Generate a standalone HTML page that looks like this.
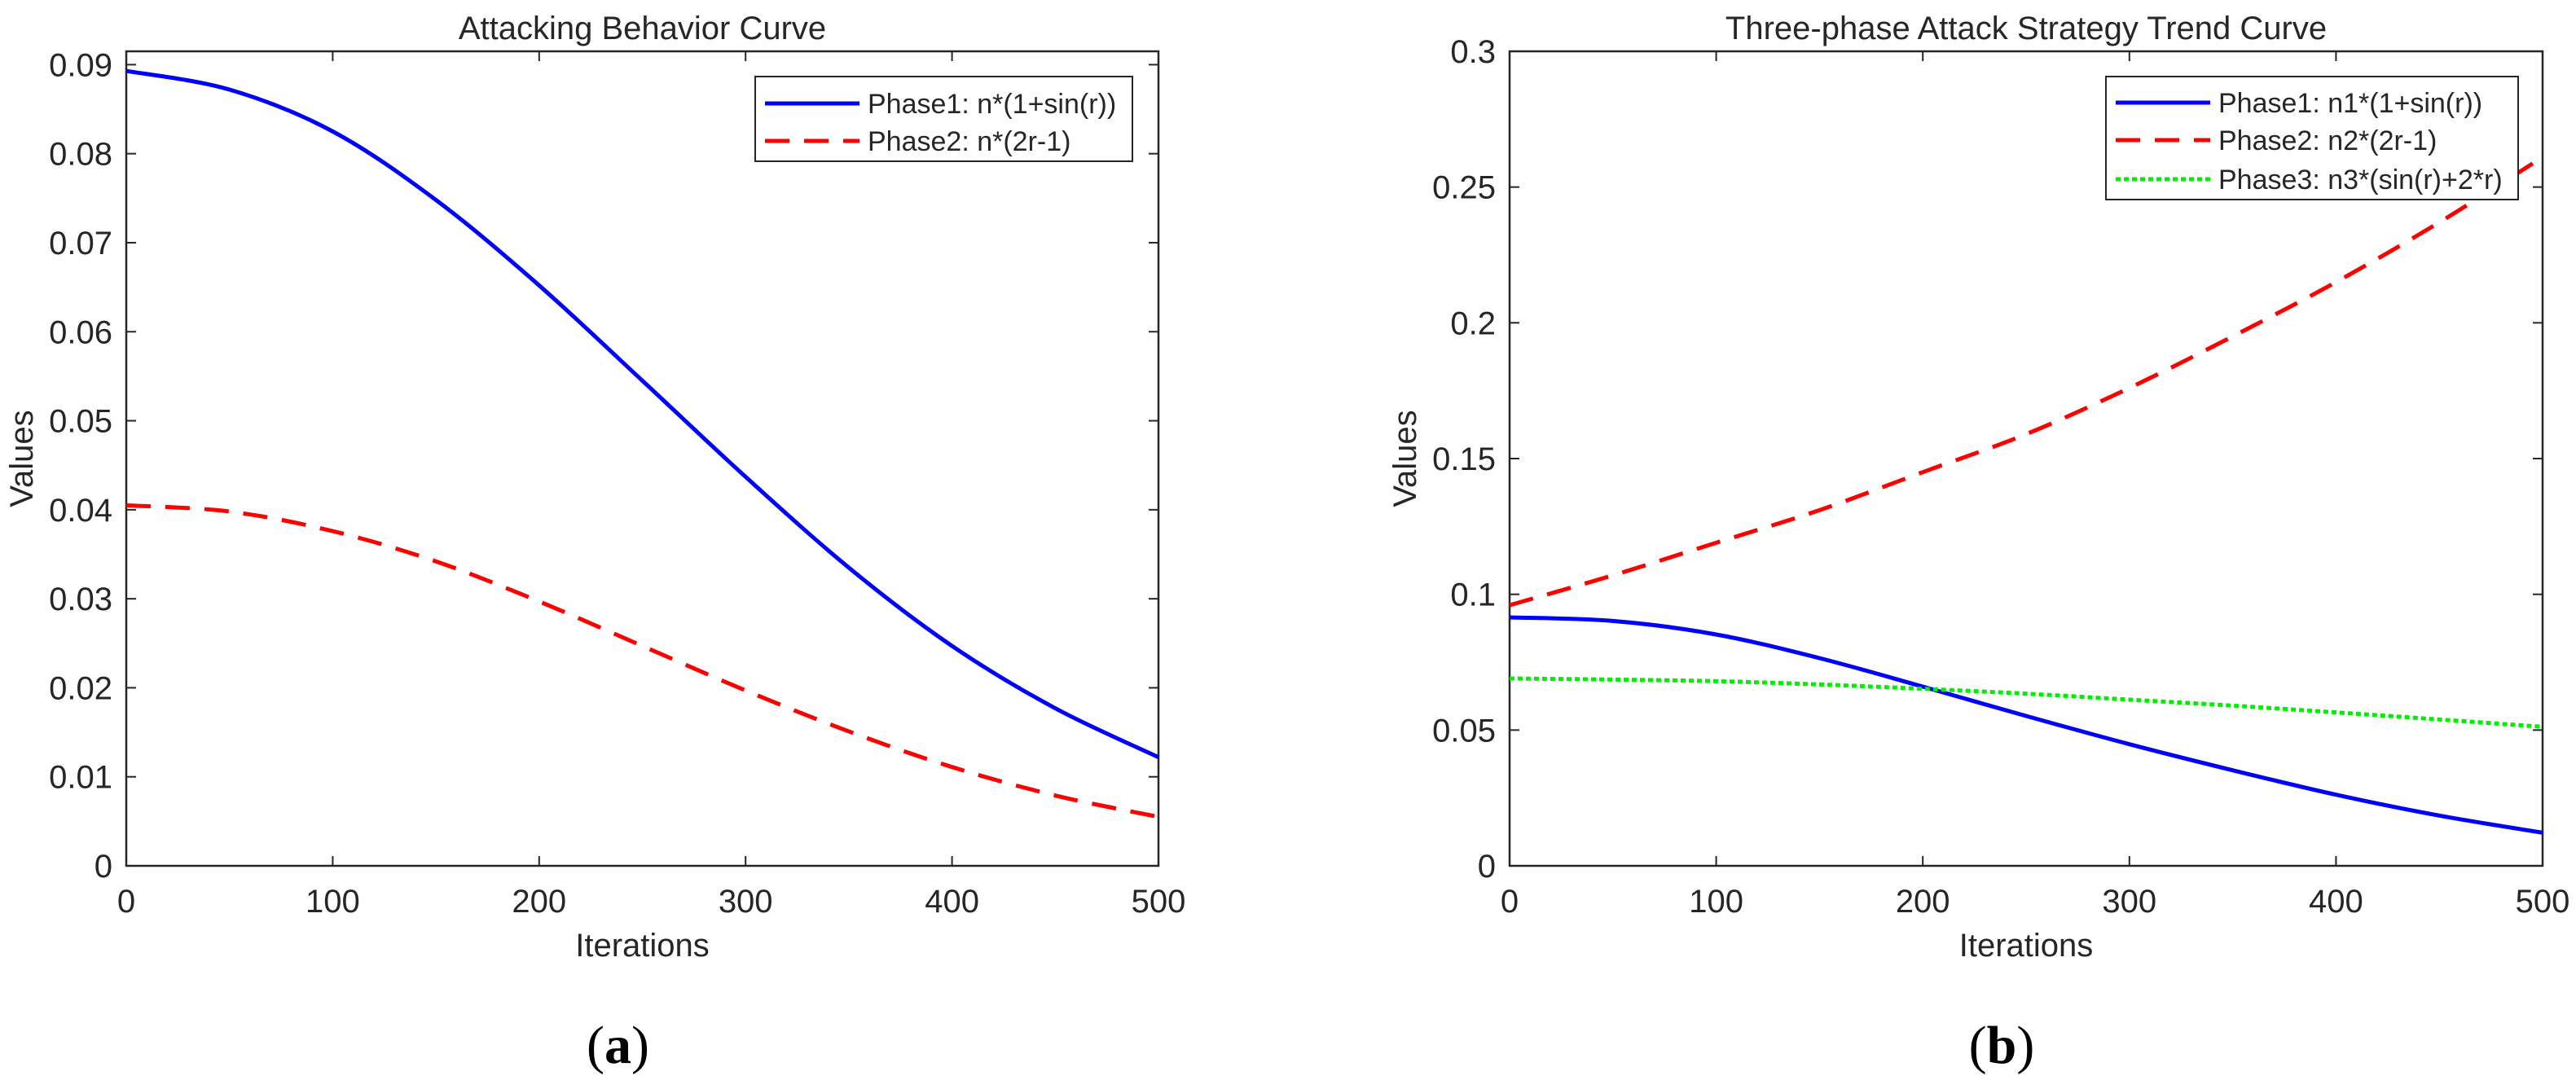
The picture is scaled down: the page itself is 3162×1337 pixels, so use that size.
<!DOCTYPE html>
<html><head><meta charset="utf-8"><style>
html,body{margin:0;padding:0;background:#fff}
svg{display:block}
text{font-family:"Liberation Sans",Arial,sans-serif;fill:#262626}
</style></head><body>
<svg id="svg" width="3162" height="1337" viewBox="0 0 3162 1337" xmlns="http://www.w3.org/2000/svg"></svg>
<script>
const xTicks=[0,100,200,300,400,500];
const xA=[0,50,100,150,200,250,300,350,400,450,500];
const aYTicks=[0,0.01,0.02,0.03,0.04,0.05,0.06,0.07,0.08,0.09];
const aYLabels=["0","0.01","0.02","0.03","0.04","0.05","0.06","0.07","0.08","0.09"];
const aPhase1=[0.0893,0.0872,0.0825,0.0748,0.0652,0.0545,0.0437,0.0335,0.0247,0.0177,0.0122];
const aPhase2=[0.0405,0.0398,0.0376,0.0342,0.0297,0.0247,0.0197,0.0151,0.0111,0.0079,0.0055];
const bYTicks=[0,0.05,0.1,0.15,0.2,0.25,0.3];
const bYLabels=["0","0.05","0.1","0.15","0.2","0.25","0.3"];
const bPhase1=[0.0915,0.0902,0.0852,0.0765,0.066,0.0552,0.0448,0.0352,0.0262,0.0185,0.0122];
const bPhase2=[0.096,0.107,0.119,0.131,0.145,0.159,0.176,0.195,0.215,0.237,0.261];
const bPhase3=[0.069,0.0686,0.0680,0.0668,0.0652,0.0634,0.0612,0.0590,0.0565,0.0539,0.0512];

const NS="http://www.w3.org/2000/svg";
const svg=document.getElementById('svg');
function el(tag,attrs,parent,txt){const e=document.createElementNS(NS,tag);for(const k in attrs)e.setAttribute(k,attrs[k]);if(txt!==undefined)e.textContent=txt;(parent||svg).appendChild(e);return e;}
function path(pts){let d='M'+pts[0][0]+','+pts[0][1];for(let i=0;i<pts.length-1;i++){const p0=pts[Math.max(0,i-1)],p1=pts[i],p2=pts[i+1],p3=pts[Math.min(pts.length-1,i+2)];const c1=[p1[0]+(p2[0]-p0[0])/6,p1[1]+(p2[1]-p0[1])/6],c2=[p2[0]-(p3[0]-p1[0])/6,p2[1]-(p3[1]-p1[1])/6];d+=' C'+c1+' '+c2+' '+p2;}return d;}

function panel(cfg){
  const g=el('g',{});
  
  
  const L=cfg.left,R=cfg.right,T=63,B=1063;
  const sx=v=>L+(v-0)/(500)*(R-L);
  const sy=v=>B-(v/cfg.ymax)*(B-T);
  const ax=el('rect',{x:L,y:T,width:R-L,height:B-T,fill:'none',stroke:'#262626','stroke-width':2.5},g);
  
  
  xTicks.forEach(v=>{
    const x=sx(v);
    el('line',{x1:x,y1:B,x2:x,y2:B-12,stroke:'#262626','stroke-width':2},g);
    el('line',{x1:x,y1:T,x2:x,y2:T+12,stroke:'#262626','stroke-width':2},g);
    const t=el('text',{x:x,y:1120,'font-size':40,'text-anchor':'middle'},g,String(v));
    
    
  });
  cfg.yTicks.forEach((v,i)=>{
    const y=sy(v);
    el('line',{x1:L,y1:y,x2:L+12,y2:y,stroke:'#262626','stroke-width':2},g);
    el('line',{x1:R,y1:y,x2:R-12,y2:y,stroke:'#262626','stroke-width':2},g);
    const t=el('text',{x:L-17,y:y+14,'font-size':40,'text-anchor':'end'},g,cfg.yLabels[i]);
    
    
  });
  cfg.series.forEach(s=>{
    const pts=xA.map((x,i)=>[sx(x),sy(s.data[i])]);
    const p=el('path',{d:path(pts),fill:'none',stroke:s.color,'stroke-width':5,'stroke-dasharray':s.dash||'none'},g);
    
    
  });
  const ti=el('text',{x:(L+R)/2,y:48,'font-size':40,'text-anchor':'middle'},g,cfg.title);
  
  
  const xl=el('text',{x:(L+R)/2,y:1174,'font-size':40,'text-anchor':'middle'},g,'Iterations');
  
  
  const yl=el('text',{x:0,y:0,'font-size':40,'text-anchor':'middle',transform:'translate('+cfg.ylx+',563) rotate(-90)'},g,'Values');
  
  
  const lg=el('g',{},g);
  
  
  el('rect',{x:cfg.lg.x,y:94,width:cfg.lg.w,height:cfg.lg.h,fill:'#fff',stroke:'#262626','stroke-width':2},lg);
  cfg.series.forEach((s,i)=>{
    const y=cfg.lg.rows[i];
    const e=el('g',{},lg);
    
    
    el('line',{x1:cfg.lg.x+12,y1:y,x2:cfg.lg.x+128,y2:y,stroke:s.color,'stroke-width':5,'stroke-dasharray':s.dash||'none'},e);
    el('text',{x:cfg.lg.x+138,y:y+12,'font-size':34},e,s.label);
  });
  const cap=el('text',{x:(L+R)/2-30,y:1305,'text-anchor':'middle',style:'font-family:"Liberation Serif",serif;font-size:66px;fill:#000'},g);
  
  
  cap.innerHTML='(<tspan font-weight="bold">'+cfg.cap+'</tspan>)';
}
panel({name:'chart-a',left:155,right:1422,ymax:0.0915,yTicks:aYTicks,yLabels:aYLabels,title:'Attacking Behavior Curve',ylx:40,cap:'a',
  lg:{x:927,w:463,h:104,rows:[127,173]},
  series:[{name:'line-phase1',label:'Phase1: n*(1+sin(r))',color:'#0000ff',data:aPhase1},
          {name:'line-phase2',label:'Phase2: n*(2r-1)',color:'#ff0000',dash:'30 18',data:aPhase2}]});
panel({name:'chart-b',left:1853,right:3121,ymax:0.3,yTicks:bYTicks,yLabels:bYLabels,title:'Three-phase Attack Strategy Trend Curve',ylx:1738,cap:'b',
  lg:{x:2585,w:506,h:151,rows:[126,172,220]},
  series:[{name:'line-phase1',label:'Phase1: n1*(1+sin(r))',color:'#0000ff',data:bPhase1},
          {name:'line-phase2',label:'Phase2: n2*(2r-1)',color:'#ff0000',dash:'30 18',data:bPhase2},
          {name:'line-phase3',label:'Phase3: n3*(sin(r)+2*r)',color:'#00ee00',dash:'6 4',data:bPhase3}]});
</script>
</body></html>
